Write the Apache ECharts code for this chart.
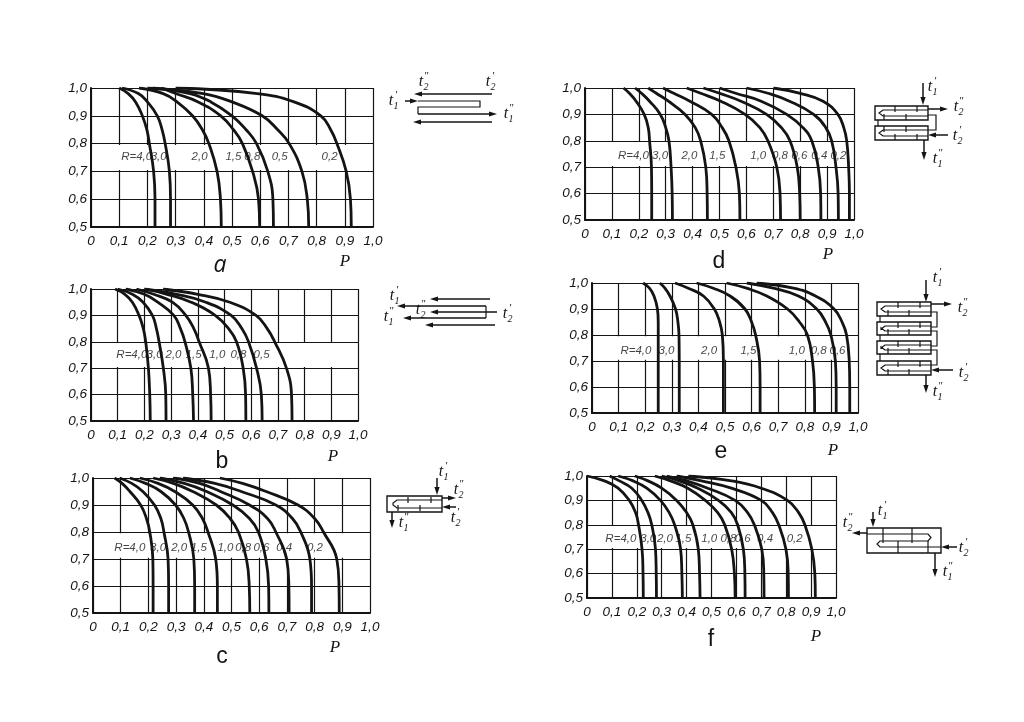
<!DOCTYPE html>
<html><head><meta charset="utf-8">
<style>html,body{margin:0;padding:0;background:#fff}#c{width:1024px;height:722px}</style>
<script src="https://cdn.jsdelivr.net/npm/echarts@6/dist/echarts.min.js"></script>
</head><body><div id="c"></div>
<script>
// correction factor levels shared by every curve
const phi = [1, .98, .95, .9, .85, .8, .7, .6, .5];
const xTicks = ['0','0,1','0,2','0,3','0,4','0,5','0,6','0,7','0,8','0,9','1,0'];
const yTicks = ['0,5','0,6','0,7','0,8','0,9','1,0'];

// P read at each phi level, one row per R
const namesA = ['4,0','3,0','2,0','1,5','0,8','0,5','0,2'];
const curvesA = [
 [.10,.132,.158,.182,.198,.207,.222,.227,.227],
 [.11,.168,.2,.235,.252,.263,.278,.282,.282],
 [.17,.256,.305,.36,.395,.418,.447,.459,.462],
 [.25,.30,.38,.46,.505,.537,.573,.594,.598],
 [.22,.351,.425,.50,.55,.587,.627,.645,.647],
 [.20,.398,.50,.607,.662,.703,.748,.767,.772],
 [.30,.59,.72,.815,.85,.872,.905,.92,.923]];
const labelXA = [.162,.24,.385,.505,.572,.669,.846];

const namesB = ['4,0','3,0','2,0','1,5','1,0','0,8','0,5'];
const curvesB = [
 [.09,.127,.155,.18,.196,.205,.215,.22,.222],
 [.10,.155,.195,.23,.245,.255,.271,.28,.281],
 [.13,.2,.25,.31,.335,.352,.374,.381,.384],
 [.17,.235,.305,.355,.385,.405,.44,.448,.45],
 [.20,.285,.375,.465,.515,.545,.57,.579,.58],
 [.20,.32,.43,.525,.565,.59,.62,.638,.641],
 [.27,.40,.52,.618,.66,.688,.732,.751,.753]];
const labelXB = [.153,.238,.309,.384,.473,.552,.639];

const namesC = ['4,0','3,0','2,0','1,5','1,0','0,8','0,6','0,4','0,2'];
const curvesC = [
 [.078,.105,.133,.172,.193,.205,.216,.217,.217],
 [.096,.14,.18,.222,.245,.256,.271,.273,.273],
 [.133,.19,.245,.298,.328,.345,.364,.367,.367],
 [.169,.235,.295,.36,.395,.415,.443,.449,.449],
 [.217,.29,.36,.445,.495,.525,.554,.564,.566],
 [.241,.33,.41,.505,.565,.597,.624,.634,.635],
 [.289,.385,.46,.565,.63,.66,.699,.707,.708],
 [.325,.44,.535,.66,.72,.75,.783,.789,.789],
 [.458,.54,.625,.74,.80,.832,.88,.888,.889]];
const labelXC = [.133,.235,.311,.382,.478,.542,.608,.69,.801];

const namesD = ['4,0','3,0','2,0','1,5','1,0','0,8','0,6','0,4','0,2'];
const curvesD = [
 [.143,.165,.19,.22,.235,.24,.247,.248,.248],
 [.186,.21,.24,.28,.30,.312,.32,.324,.325],
 [.235,.265,.31,.372,.41,.43,.449,.454,.455],
 [.29,.33,.39,.471,.51,.535,.561,.574,.576],
 [.378,.43,.505,.595,.65,.68,.713,.725,.727],
 [.44,.50,.58,.675,.73,.762,.789,.798,.80],
 [.50,.56,.655,.75,.81,.843,.867,.876,.877],
 [.60,.68,.76,.85,.895,.917,.933,.941,.942],
 [.70,.80,.885,.94,.962,.973,.98,.983,.983]];
const labelXD = [.18,.279,.388,.492,.644,.725,.797,.871,.942];

const namesE = ['4,0','3,0','2,0','1,5','1,0','0,8','0,6'];
const curvesE = [
 [.192,.216,.233,.246,.249,.249,.249,.249,.249],
 [.255,.274,.293,.314,.323,.327,.328,.328,.328],
 [.312,.362,.419,.46,.48,.49,.494,.494,.494],
 [.393,.456,.519,.575,.60,.615,.63,.632,.632],
 [.506,.581,.657,.735,.78,.81,.829,.836,.837],
 [.582,.682,.776,.845,.878,.898,.915,.918,.918],
 [.619,.757,.84,.91,.94,.957,.967,.969,.969]];
const labelXE = [.165,.28,.44,.588,.77,.852,.923];

const namesF = ['4,0','3,0','2,0','1,5','1,0','0,8','0,6','0,4','0,2'];
const curvesF = [
 [.0,.07,.125,.17,.195,.207,.221,.225,.226],
 [.091,.13,.18,.22,.245,.26,.275,.278,.279],
 [.125,.185,.24,.295,.33,.352,.376,.381,.383],
 [.192,.245,.30,.36,.40,.425,.447,.452,.454],
 [.272,.335,.405,.475,.525,.553,.581,.592,.595],
 [.30,.37,.445,.528,.58,.605,.628,.634,.635],
 [.32,.40,.485,.595,.645,.672,.702,.71,.711],
 [.36,.46,.58,.70,.745,.77,.799,.808,.809],
 [.407,.58,.70,.805,.85,.875,.903,.915,.917]];
const labelXF = [.136,.246,.313,.387,.491,.568,.625,.715,.834];

const panels = [
 {letter:'a', names:namesA, curves:curvesA, lx:labelXA, ly:.753, box:[91,88,373,227],  lp:[215,260], pp:[340,257]},
 {letter:'b', names:namesB, curves:curvesB, lx:labelXB, ly:.75,  box:[91,289,358,421], lp:[217,457], pp:[328,452]},
 {letter:'c', names:namesC, curves:curvesC, lx:labelXC, ly:.742, box:[93,478,370,613], lp:[217,652], pp:[330,643]},
 {letter:'d', names:namesD, curves:curvesD, lx:labelXD, ly:.743, box:[585,88,854,220], lp:[714,257], pp:[823,250]},
 {letter:'e', names:namesE, curves:curvesE, lx:labelXE, ly:.74,  box:[592,283,858,413],lp:[716,447], pp:[828,446]},
 {letter:'f', names:namesF, curves:curvesF, lx:labelXF, ly:.743, box:[587,476,836,598],lp:[706,635], pp:[811,632]}
];

const INK = '#141414';
const FONT = '"Liberation Sans",sans-serif';
const grid=[], xAxis=[], yAxis=[], series=[], title=[];
panels.forEach((p,i)=>{
  const [x0,y0,x1,y1]=p.box;
  grid.push({left:x0,top:y0,width:x1-x0,height:y1-y0,show:false,containLabel:false});
  title.push({text:p.letter,left:p.lp[0],top:p.lp[1],textAlign:'center',textVerticalAlign:'middle',
    textStyle:{fontFamily:p.letter==='a'?'"Open Sans"':'"Liberation Sans"',fontStyle:p.letter==='a'?'italic':'normal',
    fontWeight:'normal',fontSize:23,color:INK}});
  title.push({text:'P',left:p.pp[0],top:p.pp[1],textAlign:'center',textVerticalAlign:'middle',
    textStyle:{fontFamily:'"Liberation Serif"',fontStyle:'italic',fontWeight:'normal',fontSize:17,color:INK}});
  xAxis.push({type:'value',gridIndex:i,min:0,max:1,interval:.1,
    axisLine:{show:true,onZero:false,lineStyle:{color:INK,width:2}},axisTick:{show:false},
    axisLabel:{margin:7,fontFamily:FONT,fontStyle:'italic',fontSize:13.5,color:INK,showMinLabel:true,showMaxLabel:true,hideOverlap:false,
      formatter:(v)=>xTicks[Math.round(v*10)]},
    splitLine:{show:true,lineStyle:{color:INK,width:1.2}}});
  yAxis.push({type:'value',gridIndex:i,min:.5,max:1,interval:.1,
    axisLine:{show:true,onZero:false,lineStyle:{color:INK,width:2}},axisTick:{show:false},
    axisLabel:{margin:4,fontFamily:FONT,fontStyle:'italic',fontSize:13.5,color:INK,showMinLabel:true,showMaxLabel:true,hideOverlap:false,
      formatter:(v)=>yTicks[Math.round((v-.5)*10)]},
    splitLine:{show:true,lineStyle:{color:INK,width:1.2}}});
  // printed white strip behind the R labels
  series.push({type:'line',xAxisIndex:i,yAxisIndex:i,data:[],silent:true,
    markArea:{silent:true,z:1,itemStyle:{color:'#fff',opacity:1},data:[[{coord:[.005,.795]},{coord:[.995,.705]}]]}});
  p.curves.forEach((row,k)=>{
    series.push({type:'line',name:(k===0?'R=':'')+p.names[k],xAxisIndex:i,yAxisIndex:i,z:3,
      data:row.map((v,j)=>[v,phi[j]]),showSymbol:false,smooth:.45,
      lineStyle:{color:INK,width:2.8},silent:true});
  });
  series.push({type:'scatter',xAxisIndex:i,yAxisIndex:i,z:4,symbolSize:0,silent:true,
    data:p.lx.map((v,k)=>({name:(k===0?'R=':'')+p.names[k],value:[v,p.ly]})),
    label:{show:true,position:'inside',formatter:'{b}',fontFamily:FONT,fontStyle:'italic',fontSize:11.5,color:INK}});
});

// flow schematics
const g=[];
const line=(pts,w)=>g.push({type:'polyline',silent:true,shape:{points:pts},style:{stroke:INK,fill:null,lineWidth:w||1.2}});
const rect=(x0,y0,x1,y1)=>g.push({type:'rect',silent:true,shape:{x:x0,y:y0,width:x1-x0,height:y1-y0},style:{stroke:INK,fill:null,lineWidth:1.4}});
function arrow(x0,y0,x1,y1){
  const a=Math.atan2(y1-y0,x1-x0),L=8,W=2.6;
  const bx=x1-L*Math.cos(a),by=y1-L*Math.sin(a);
  line([[x0,y0],[bx,by]],1.5);
  g.push({type:'polygon',silent:true,shape:{points:[[x1,y1],[bx-W*Math.sin(a),by+W*Math.cos(a)],[bx+W*Math.sin(a),by-W*Math.cos(a)]]},style:{fill:INK}});
}
function tl(x,y,sub,mark){
  const st=(t,dx,dy,s)=>g.push({type:'text',silent:true,x:x+dx,y:y+dy,style:{text:t,fontFamily:'"Liberation Serif"',fontStyle:'italic',fontSize:s,fill:INK,align:'center',verticalAlign:'middle'}});
  st('t',-2,0,16); st(sub,3,5,10); st(mark,3,-6,11);
}
function uTube(x0,x1,y0,y1){ // simple hairpin
  line([[x1,y0],[x0+4,y0],[x0,y0+3],[x0,y1-3],[x0+4,y1],[x1,y1]]);
}
// a
arrow(492,94,414,94); arrow(405,101,418,101);
line([[418,101],[480,101],[480,107],[418,107],[418,114]]); arrow(418,114,497,114); arrow(492,122,413,122);
tl(423,82,'2','″'); tl(490,82,'2','′'); tl(393,101,'1','′'); tl(508,114,'1','″');
// b
arrow(490,299,430,299); arrow(497,312,430,312); arrow(495,325,425,325);
arrow(486,306,397,306); line([[486,306],[486,318]]); arrow(486,318,403,318);
tl(394,296,'1','′'); tl(388,317,'1','″'); tl(420,310,'2','″'); tl(507,314,'2','′');
// c
rect(387,496,442,512); uTube(393,442,500,508); 
[[408,497,408,503],[431,497,431,503],[398,505,398,511],[420,505,420,511]].forEach(s=>line([[s[0],s[1]],[s[2],s[3]]]));
arrow(437,478,437,495); arrow(442,498,456,498); arrow(456,507,442,507); arrow(392,512,392,528);
tl(443,472,'1','′'); tl(458,490,'2','″'); tl(455,518,'2','′'); tl(403,523,'1','″');
// d
rect(875,106,928,120); rect(875,126,928,140);
uTube(879,928,110,116); uTube(879,928,130,136);
line([[928,115],[936,115],[936,130],[928,130]]); line([[878,120],[878,126]]);
[[895,106,895,112],[917,106,917,112],[884,114,884,120],[906,114,906,120],[884,126,884,132],[906,126,906,132],[895,134,895,140],[917,134,917,140]].forEach(s=>line([[s[0],s[1]],[s[2],s[3]]]));
arrow(923,83,923,105); arrow(928,109,948,109); arrow(948,135,928,135); arrow(924,140,924,160);
tl(932,87,'1','′'); tl(958,107,'2','″'); tl(957,136,'2','′'); tl(937,159,'1','″');
// e
[[302,316],[322,335],[341,354],[361,375]].forEach(r=>{
  rect(877,r[0],931,r[1]); uTube(881,931,r[0]+4,r[1]-4);
  [[898,r[0],898,r[0]+6],[920,r[0],920,r[0]+6],[888,r[1]-6,888,r[1]],[909,r[1]-6,909,r[1]]].forEach(s=>line([[s[0],s[1]],[s[2],s[3]]]));
});
line([[931,312],[937,312],[937,327],[931,327]]); line([[931,331],[937,331],[937,346],[931,346]]); line([[931,350],[937,350],[937,365],[931,365]]);
line([[880,316],[880,322]]); line([[880,335],[880,341]]); line([[880,354],[880,361]]);
arrow(926,280,926,302); arrow(931,304,952,304); arrow(953,370,931,370); arrow(926,375,926,393);
tl(937,278,'1','′'); tl(962,308,'2','″'); tl(963,373,'2','′'); tl(937,392,'1','″');
// f
rect(867,528,941,553);
line([[867,534],[928,534],[931,537.5],[928,541],[880,541],[877,544],[880,547],[941,547]]);
[[883,528,883,543],[912,528,912,543],[898,541,898,553],[928,541,928,553]].forEach(s=>line([[s[0],s[1]],[s[2],s[3]]]));
arrow(873,512,873,527); arrow(867,533,852,533); arrow(957,547,941,547); arrow(935,553,935,577);
tl(882,511,'1','′'); tl(847,523,'2','″'); tl(963,548,'2','′'); tl(947,572,'1','″');

const chart=echarts.init(document.getElementById('c'),null,{renderer:'canvas'});
chart.setOption({animation:false,backgroundColor:'#fff',title,grid,xAxis,yAxis,series,graphic:{elements:g}});
</script></body></html>
